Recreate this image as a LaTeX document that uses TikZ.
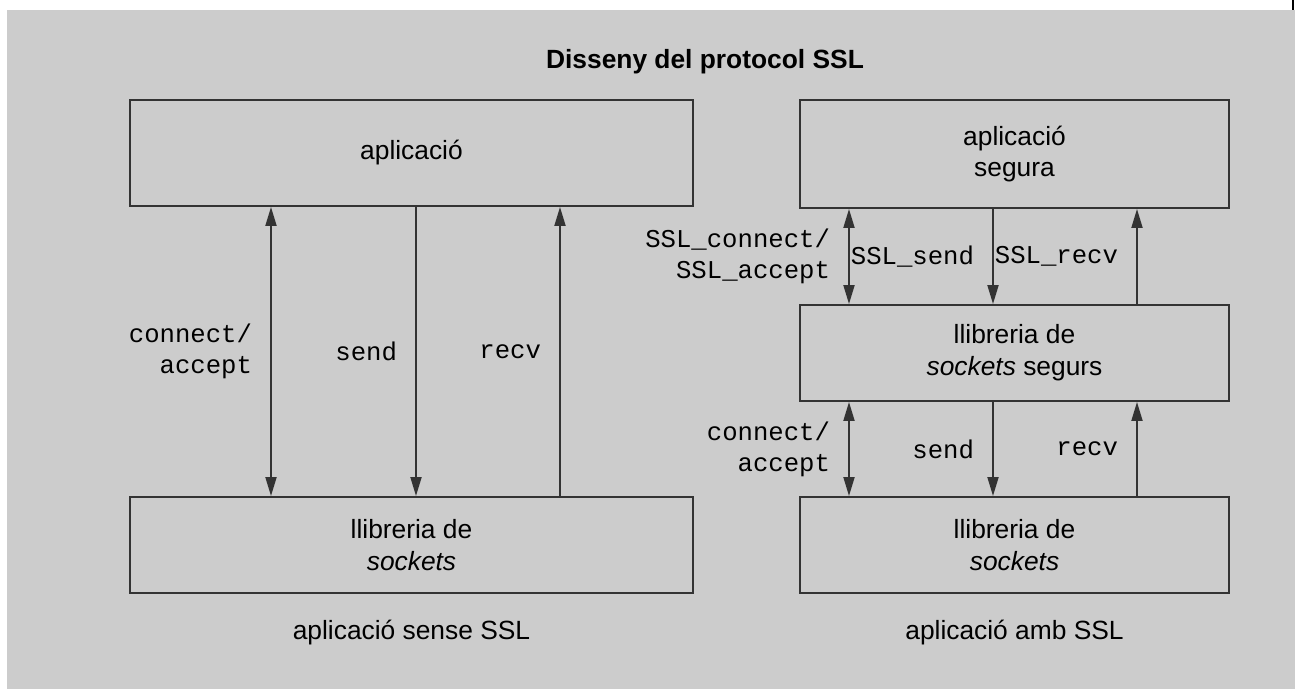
\documentclass[tikz,border=0pt]{standalone}
\usepackage{fontspec}
\setmainfont{Liberation Sans}
\setmonofont{Liberation Mono}
\usetikzlibrary{arrows.meta}
\definecolor{panel}{HTML}{CCCCCC}
\definecolor{ink}{HTML}{333333}

\tikzset{
  bloc/.style={draw=ink, line width=1.1pt, align=center, inner sep=0pt},
  fn/.style={font=\ttfamily\fontsize{14.6}{17.5}\selectfont, align=right, inner sep=0pt},
  flow/.style={draw=ink, line width=1.1pt, >={Triangle[length=3.8mm,width=2.2mm]}}
}

\begin{document}
\begin{tikzpicture}[x=0.2mm, y=-0.2mm, font=\fontsize{15}{18}\selectfont]
\useasboundingbox (0,0) rectangle (1297,690);
% Background
\fill[panel] (7,10) rectangle (1295,689);
\draw[line width=1.2pt] (1293,0) -- (1293,10);

% Title
\node[font=\bfseries\fontsize{15}{18}\selectfont] (title) at (705,62) {Disseny del protocol SSL};

% Left: application without SSL
\node[bloc, minimum width=112.6mm, minimum height=21.2mm] (app) at (411.5,153) {aplicació};
\node[bloc, minimum width=112.6mm, minimum height=19.2mm] (lib) at (411.5,545) {llibreria de\\\textit{sockets}};
\draw[flow, <->] (271,0 |- app.south) -- (271,0 |- lib.north) node[fn, midway, left=3.6mm] {connect/\\accept};
\draw[flow, ->] (416,0 |- app.south) -- (416,0 |- lib.north) node[fn, midway, left=3.6mm] {send};
\draw[flow, ->] (560,0 |- lib.north) -- (560,0 |- app.south) node[fn, midway, left=3.6mm] {recv};
\node (capL) at (411.5,633) {aplicació sense SSL};

% Right: application with SSL
\node[bloc, minimum width=85.8mm, minimum height=21.6mm] (sapp) at (1014.5,154) {aplicació\\segura};
\node[bloc, minimum width=85.8mm, minimum height=19.2mm] (slib) at (1014.5,353) {llibreria de\\\textit{sockets} segurs};
\node[bloc, minimum width=85.8mm, minimum height=19.2mm] (rlib) at (1014.5,545) {llibreria de\\\textit{sockets}};
\draw[flow, <->] (849,0 |- sapp.south) -- (849,0 |- slib.north) node[fn, midway, left=3.6mm] {SSL\_connect/\\SSL\_accept};
\draw[flow, ->] (993,0 |- sapp.south) -- (993,0 |- slib.north) node[fn, midway, left=3.6mm] {SSL\_send};
\draw[flow, ->] (1137,0 |- slib.north) -- (1137,0 |- sapp.south) node[fn, midway, left=3.6mm] {SSL\_recv};
\draw[flow, <->] (849,0 |- slib.south) -- (849,0 |- rlib.north) node[fn, midway, left=3.6mm] {connect/\\accept};
\draw[flow, ->] (993,0 |- slib.south) -- (993,0 |- rlib.north) node[fn, midway, left=3.6mm] {send};
\draw[flow, ->] (1137,0 |- rlib.north) -- (1137,0 |- slib.south) node[fn, midway, left=3.6mm] {recv};
\node (capR) at (1014.5,633) {aplicació amb SSL};
\end{tikzpicture}
\end{document}
